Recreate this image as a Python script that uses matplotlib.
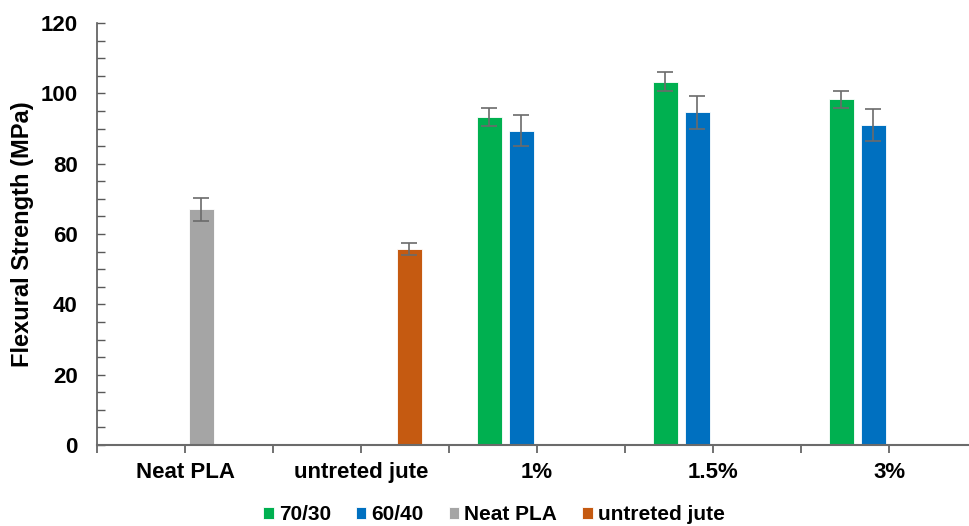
import matplotlib
matplotlib.use("Agg")
import matplotlib.pyplot as plt
import numpy as np
from matplotlib.ticker import MultipleLocator, FixedLocator

plt.rcParams['font.family'] = ['Liberation Sans', 'DejaVu Sans']

categories = ["Neat PLA", "untreted jute", "1%", "1.5%", "3%"]
series_names = ["70/30", "60/40", "Neat PLA", "untreted jute"]
colors = ["#00B050", "#0070C0", "#A5A5A5", "#C55A11"]

# values per series, per category (nan = no bar)
v_7030 = [np.nan, np.nan, 93.3, 103.3, 98.3]
v_6040 = [np.nan, np.nan, 89.4, 94.6, 91.0]
v_neat = [67.0, np.nan, np.nan, np.nan, np.nan]
v_jute = [np.nan, 55.6, np.nan, np.nan, np.nan]
e_7030 = [np.nan, np.nan, 2.5, 2.7, 2.5]
e_6040 = [np.nan, np.nan, 4.5, 4.6, 4.6]
e_neat = [3.3, np.nan, np.nan, np.nan, np.nan]
e_jute = [np.nan, 1.7, np.nan, np.nan, np.nan]

values = [v_7030, v_6040, v_neat, v_jute]
errors = [e_7030, e_6040, e_neat, e_jute]

fig = plt.figure(figsize=(9.69, 5.26), dpi=100)
ax = fig.add_axes([97 / 969, 81 / 526, 1 - 97 / 969, (445 - 23) / 526])

centers = np.arange(len(categories)) + 0.5
slot = 32 / 176
width = 25 / 176
offsets = (np.arange(4) - 1.5) * slot

for vals, errs, off, col, name in zip(values, errors, offsets, colors, series_names):
    vals = np.array(vals, dtype=float)
    errs = np.array(errs, dtype=float)
    ax.bar(centers + off, np.nan_to_num(vals), width, color=col, label=name,
           edgecolor='white', linewidth=0.6, zorder=2)
    mask = ~np.isnan(vals)
    ax.errorbar((centers + off)[mask], vals[mask], yerr=errs[mask], fmt='none',
                ecolor='#6b6b6b', elinewidth=1.2, capsize=6, capthick=1.2, zorder=3)

ax.set_xlim(0, (969 - 97) / 176)
ax.set_ylim(0, 120)

for s in ['top', 'right']:
    ax.spines[s].set_visible(False)
ax.spines['left'].set_color('#595959')
ax.spines['bottom'].set_color('#6b6b6b')
ax.spines['left'].set_linewidth(1.2)
ax.spines['bottom'].set_linewidth(1.5)

ax.yaxis.set_major_locator(MultipleLocator(20))
ax.yaxis.set_minor_locator(MultipleLocator(5))
ax.tick_params(axis='y', which='both', direction='in', length=5.5, width=1,
               color='#595959', pad=14, labelsize=16)

ax.set_xticks(centers)
ax.set_xticklabels(categories)
ax.xaxis.set_minor_locator(FixedLocator(np.arange(0, 5)))
ax.tick_params(axis='x', which='both', direction='out', length=6, width=1.2,
               color='#595959', pad=6, labelsize=16)
for lab in ax.get_xticklabels() + ax.get_yticklabels():
    lab.set_fontweight('bold')

ax.set_ylabel("Flexural Strength (MPa)", fontsize=17, fontweight='bold')
ax.yaxis.set_label_coords(-0.072, 0.5)

handles, labels = ax.get_legend_handles_labels()
leg = fig.legend(handles, labels, loc='center', bbox_to_anchor=(494 / 969, 1 - 515 / 526),
                 ncol=4, frameon=False, handlelength=0.5, handleheight=0.5,
                 handletextpad=0.25, columnspacing=1.2,
                 prop={'weight': 'bold', 'size': 15})

fig.savefig("out.png", dpi=100)
